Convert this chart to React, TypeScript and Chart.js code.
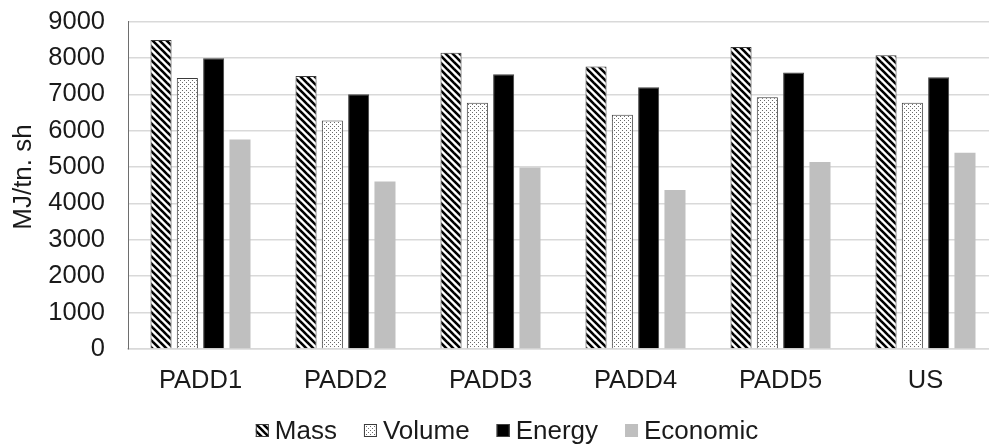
import React, { useEffect, useRef } from "react";
import { Chart, registerables } from "chart.js";

Chart.register(...registerables);

const categories = ["PADD1", "PADD2", "PADD3", "PADD4", "PADD5", "US"];
const seriesNames = ["Mass", "Volume", "Energy", "Economic"];
const mass = [8490, 7500, 8140, 7760, 8300, 8070];
const volume = [7450, 6280, 6770, 6440, 6920, 6770];
const energy = [7990, 7000, 7550, 7190, 7600, 7465];
const economic = [5760, 4600, 4990, 4370, 5140, 5390];
const yMin = 0;
const yMax = 9000;
const yStep = 1000;
const yTitle = "MJ/tn. sh";

const FONT = '"Liberation Sans", Arial, sans-serif';
const TEXT = "#1a1a1a";

function makeStripe(): CanvasPattern | string {
  const s = 7;
  const c = document.createElement("canvas");
  c.width = s;
  c.height = s;
  const g = c.getContext("2d");
  if (!g) return "#000";
  g.fillStyle = "#fff";
  g.fillRect(0, 0, s, s);
  g.strokeStyle = "#000";
  g.lineWidth = 2.6;
  for (let k = -1; k <= 1; k++) {
    g.beginPath();
    g.moveTo(-1 + k * s, -1);
    g.lineTo(s + 1 + k * s, s + 1);
    g.stroke();
  }
  return g.createPattern(c, "repeat") || "#000";
}

function makeDots(): CanvasPattern | string {
  const s = 4;
  const c = document.createElement("canvas");
  c.width = s;
  c.height = s;
  const g = c.getContext("2d");
  if (!g) return "#ddd";
  g.fillStyle = "#fff";
  g.fillRect(0, 0, s, s);
  g.fillStyle = "#6a6a6a";
  g.fillRect(0, 0, 1, 1);
  g.fillRect(2, 2, 1, 1);
  return g.createPattern(c, "repeat") || "#ddd";
}

const overlayPlugin = {
  id: "overlay",
  afterDraw(chart: any) {
    const ctx = chart.ctx as CanvasRenderingContext2D;
    ctx.save();
    // y-axis title
    ctx.font = `26px ${FONT}`;
    ctx.fillStyle = TEXT;
    ctx.textAlign = "center";
    ctx.textBaseline = "middle";
    ctx.translate(24, 177);
    ctx.rotate(-Math.PI / 2);
    ctx.fillText(yTitle, 0, 0);
    ctx.restore();

    // legend
    ctx.save();
    ctx.font = `26px ${FONT}`;
    const BOX = 13;
    const GAP = 6;
    const SPACING = 27;
    const datasets = chart.data.datasets;
    const widths = datasets.map((d: any) => ctx.measureText(d.label).width);
    let total = 0;
    widths.forEach((w: number) => (total += BOX + GAP + w));
    total += SPACING * (datasets.length - 1);
    let x = 507 - total / 2;
    const yc = 430.5;
    datasets.forEach((d: any, i: number) => {
      ctx.fillStyle = d.backgroundColor;
      ctx.fillRect(x, yc - BOX / 2, BOX, BOX);
      if (d.borderWidth > 0) {
        ctx.strokeStyle = d.borderColor;
        ctx.lineWidth = 1;
        ctx.strokeRect(x + 0.5, yc - BOX / 2 + 0.5, BOX - 1, BOX - 1);
      }
      ctx.fillStyle = TEXT;
      ctx.textAlign = "left";
      ctx.textBaseline = "middle";
      ctx.fillText(d.label, x + BOX + GAP, yc + 1);
      x += BOX + GAP + widths[i] + SPACING;
    });
    ctx.restore();
  },
};

export default function App() {
  const ref = useRef<HTMLCanvasElement | null>(null);

  useEffect(() => {
    document.body.style.margin = "0";
    document.body.style.overflow = "hidden";
    if (!ref.current) return;
    const stripe = makeStripe();
    const dots = makeDots();
    const values = [mass, volume, energy, economic];
    const fills = [stripe, dots, "#000000", "#bfbfbf"];
    const borders = ["#3a3a3a", "#3a3a3a", "#404040", "#bfbfbf"];
    const bw = [1, 1, 1, 0];
    const chart = new Chart(ref.current, {
      type: "bar",
      data: {
        labels: categories,
        datasets: seriesNames.map((n, i) => ({
          label: n,
          data: values[i],
          backgroundColor: fills[i] as any,
          borderColor: borders[i],
          borderWidth: bw[i],
          categoryPercentage: 0.726,
          barPercentage: 0.8,
        })),
      },
      options: {
        responsive: false,
        animation: false,
        layout: { padding: { top: 21.5, right: 2, bottom: 48, left: 0 } },
        plugins: {
          legend: { display: false },
          tooltip: { enabled: false },
        },
        scales: {
          x: {
            grid: { display: false, drawTicks: false },
            border: { display: true, color: "#d9d9d9", width: 1.5 },
            ticks: {
              font: { family: FONT, size: 25.5 },
              color: TEXT,
              padding: 17,
              maxRotation: 0,
              autoSkip: false,
            },
            afterFit: (s: any) => {
              s.height = 47;
            },
          },
          y: {
            min: yMin,
            max: yMax,
            grid: {
              color: "#d9d9d9",
              lineWidth: 1.5,
              drawTicks: true,
              tickLength: 20,
              tickColor: "rgba(0,0,0,0)",
            },
            border: { display: true, color: "#6e6e6e", width: 1 },
            ticks: {
              stepSize: yStep,
              font: { family: FONT, size: 25.5 },
              color: TEXT,
              padding: 3,
              callback: (v: any) => String(v),
            },
            afterFit: (s: any) => {
              s.width = 128;
            },
          },
        },
      },
      plugins: [overlayPlugin],
    });
    return () => chart.destroy();
  }, []);

  return (
    <div style={{ position: "fixed", left: 0, top: 0, width: 989, height: 444, overflow: "hidden", background: "#fff" }}>
      <canvas ref={ref} width={1000} height={444} style={{ width: 1000, height: 444, display: "block" }} />
    </div>
  );
}
